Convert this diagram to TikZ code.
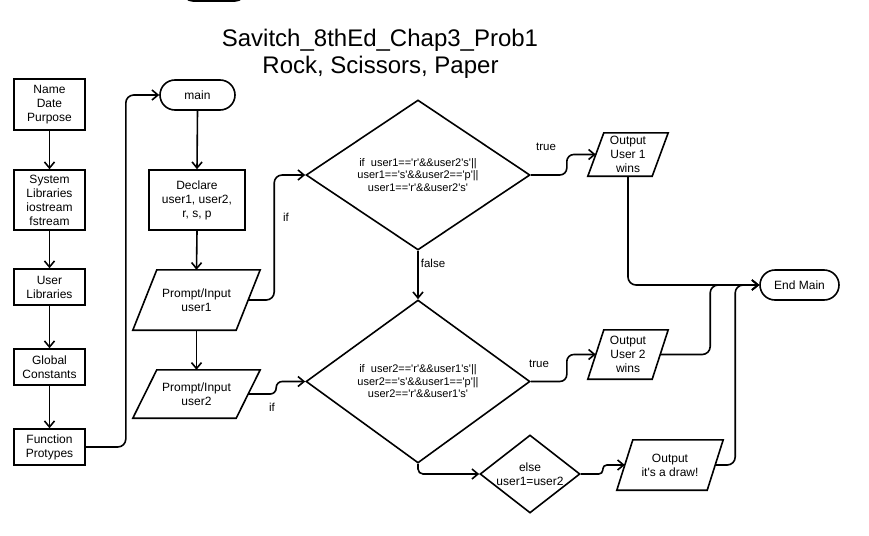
\documentclass[tikz,border=0pt]{standalone}
\usepackage{fontspec}
\setmainfont{Liberation Sans}[Ligatures=TeXOff]
\usetikzlibrary{shapes.geometric,arrows.meta,calc}
\newcommand\pgramof[2]{\draw[lw] ($(#1.north west)+(#2,0)$) -- ($(#1.north east)+(#2,0)$) -- ($(#1.south east)+(-#2,0)$) -- ($(#1.south west)+(-#2,0)$) -- cycle;}
\tikzset{
 lw/.style={line width=1.6pt},
 txt/.style={font=\fontsize{12}{14}\selectfont, align=center, inner sep=0pt},
 box/.style={draw, lw, rectangle, txt},
 term/.style={draw, lw, rectangle, rounded corners=15pt, txt},
 io/.style={txt},
 dec/.style={draw, lw, diamond, aspect=1.5, inner sep=0pt, align=center, font=\fontsize{11}{12.5}\selectfont},
 conn/.style={lw, -{Straight Barb[length=6pt,width=10pt]}},
 lbl/.style={font=\fontsize{11.5}{13}\selectfont, inner sep=0pt},
 ttl/.style={font=\fontsize{24}{27}\selectfont, anchor=base, inner sep=0pt},
}
\begin{document}
\begin{tikzpicture}[x=1pt,y=-1pt]
\useasboundingbox (0,0) rectangle (869,535);
\clip (0,0) rectangle (869,535);
\draw[lw, rounded corners=10pt] (183,-30) rectangle (245,1);
% title
\node[ttl] (t1) at (380,46) {Savitch\_8thEd\_Chap3\_Prob1};
\node[ttl] (t2) at (380.5,73) {Rock, Scissors, Paper};
% left column
\node[box, minimum width=71pt, minimum height=51pt] (name) at (49.5,104.5) {Name\\Date\\Purpose};
\node[box, minimum width=71pt, minimum height=60pt] (syslib) at (49.5,200) {System\\Libraries\\iostream\\fstream};
\node[box, minimum width=71pt, minimum height=36pt] (usrlib) at (49.5,287) {User\\Libraries};
\node[box, minimum width=71pt, minimum height=36pt] (glob) at (49.5,367) {Global\\Constants};
\node[box, minimum width=71pt, minimum height=36pt] (func) at (49.5,447) {Function\\Protypes};
% main column
\node[term, minimum width=75pt, minimum height=30pt] (main) at (197.5,95) {main};
\node[box, minimum width=96pt, minimum height=60pt] (decl) at (197,200) {Declare\\user1, user2,\\r, s, p};
\node[io, minimum width=103pt, minimum height=60pt] (in1) at (196.5,300) {Prompt/Input\\user1};
\pgramof{in1}{12}
\node[io, minimum width=103pt, minimum height=48pt] (in2) at (196.5,394) {Prompt/Input\\user2};
\pgramof{in2}{12}
% decisions
\node[dec, minimum width=224pt, minimum height=150pt] (d1) at (418,175) {if~ user1=='r'\&\&user2's'||\\user1=='s'\&\&user2=='p'||\\user1=='r'\&\&user2's'};
\node[dec, minimum width=224pt, minimum height=163pt] (d2) at (418,381.5) {if~ user2=='r'\&\&user1's'||\\user2=='s'\&\&user1=='p'||\\user2=='r'\&\&user1's'};
\node[dec, minimum width=100pt, minimum height=78pt, label={[txt]center:else\\user1=user2}] (d3) at (530,474) {};
% outputs
\node[io, minimum width=64pt, minimum height=43pt] (o1) at (628,154.5) {Output\\User 1\\wins};
\pgramof{o1}{8}
\node[io, minimum width=64pt, minimum height=49pt] (o2) at (628,354.5) {Output\\User 2\\wins};
\pgramof{o2}{8}
\node[io, minimum width=90pt, minimum height=50pt] (od) at (670,465) {Output\\it's a draw!};
\pgramof{od}{8}
\node[term, minimum width=79pt, minimum height=30pt] (endm) at (799.5,285) {End Main};
% connectors
\draw[conn] (name.south) -- (syslib.north);
\draw[conn] (syslib.south) -- (usrlib.north);
\draw[conn] (usrlib.south) -- (glob.north);
\draw[conn] (glob.south) -- (func.north);
\draw[conn, rounded corners=8pt] (func.east) -- ++(40,0) |- (main.west);
\draw[conn] (main.south) -- (decl.north);
\draw[conn] (decl.south) -- (in1.north);
\draw[conn] (in1.south) -- (in2.north);
\draw[conn, rounded corners=8pt] (in1.east) -- ++(26,0) |- (d1.west);
\draw[conn, rounded corners=6pt] (in2.east) -- ++(28,0) |- (d2.west);
\draw[conn] (d1.south) -- (d2.north);
\draw[conn, rounded corners=5pt] (d2.south) |- (d3.west);
\draw[conn, rounded corners=7pt] (d1.east) -- ++(36,0) |- (o1.west);
\draw[conn, rounded corners=7pt] (d2.east) -- ++(36,0) |- (o2.west);
\draw[conn, rounded corners=4pt] (d3.east) -- ++(22,0) |- (od.west);
\draw[conn, rounded corners=8pt] (o1.south) |- (endm.west);
\draw[conn, rounded corners=8pt] (o2.east) -- ++(50,0) |- (endm.west);
\draw[conn, rounded corners=8pt] (od.east) -- ++(20,0) |- (endm.west);
% labels
\node[lbl] (lt1) at (546,147) {true};
\node[lbl] (lt2) at (539,364) {true};
\node[lbl] (lf) at (433,263) {false};
\node[lbl] (li1) at (286,217) {if};
\node[lbl] (li2) at (272,407) {if};
\end{tikzpicture}
\end{document}
